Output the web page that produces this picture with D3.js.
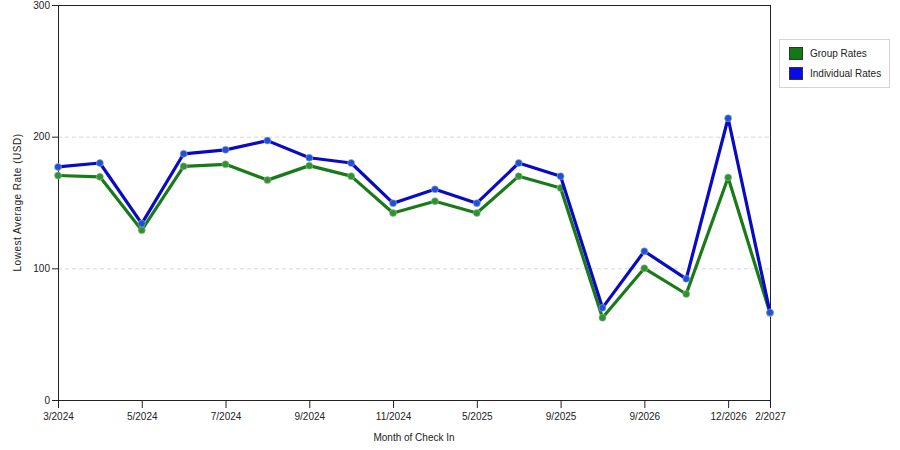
<!DOCTYPE html>
<html>
<head>
<meta charset="utf-8">
<script src="https://cdn.jsdelivr.net/npm/d3@7"></script>
<style>
  body { margin: 0; background: #fff; }
  text { font-family: "Liberation Sans", Arial, sans-serif; font-size: 10px; fill: #222; }
</style>
</head>
<body>
<script>
// months on the x axis (only some of them get a label)
var months = ["3/2024", "4/2024", "5/2024", "6/2024", "7/2024", "8/2024", "9/2024", "10/2024",
              "11/2024", "1/2025", "5/2025", "7/2025", "9/2025", "3/2026", "9/2026", "11/2026",
              "12/2026", "2/2027"];
var labelledMonths = ["3/2024", "5/2024", "7/2024", "9/2024", "11/2024", "5/2025", "9/2025",
                      "9/2026", "12/2026", "2/2027"];
var groupRates = [170.5, 169.5, 129, 177.5, 179, 167, 178, 170, 142, 151, 142, 170, 161, 62.5, 100, 80.5, 169, 66];
var individualRates = [177, 180, 134, 187, 190, 197, 184, 180, 149.5, 160, 149.5, 180, 170, 70, 113, 92, 214, 66.5];
var yTicks = [0, 100, 200, 300];

var width = 900,
    height = 450;

// plot box (window.top is taken, so own names)
var plotLeft = 58, plotRight = 770, plotTop = 5, plotBottom = 400;

var svg = d3.select("body").append("svg")
    .attr("width", width)
    .attr("height", height);

var x = d3.scalePoint().domain(months).range([plotLeft, plotRight]);
var y = d3.scaleLinear().domain([0, 300]).range([plotBottom, plotTop]);

// dashed grid
svg.selectAll("line.grid")
    .data([100, 200])
  .enter().append("line")
    .attr("class", "grid")
    .attr("x1", plotLeft).attr("x2", plotRight)
    .attr("y1", function(d) { return y(d) + 0.5; })
    .attr("y2", function(d) { return y(d) + 0.5; })
    .attr("stroke", "#d6d6d6")
    .attr("stroke-dasharray", "4,3");

// frame: top and right edges
svg.append("line").attr("x1", plotLeft).attr("x2", plotRight).attr("y1", plotTop + 0.5).attr("y2", plotTop + 0.5)
    .attr("stroke", "#222");
svg.append("line").attr("x1", plotRight + 0.5).attr("x2", plotRight + 0.5).attr("y1", plotTop).attr("y2", plotBottom)
    .attr("stroke", "#222");

// y axis
var yAxis = svg.append("g")
    .attr("transform", "translate(" + plotLeft + ",0)")
    .call(d3.axisLeft(y).tickValues(yTicks).tickSize(6).tickPadding(2).tickSizeOuter(0));

// x axis
var xAxis = svg.append("g")
    .attr("transform", "translate(0," + plotBottom + ")")
    .call(d3.axisBottom(x).tickValues(labelledMonths).tickSize(8).tickPadding(5).tickSizeOuter(0));

[yAxis, xAxis].forEach(function(a) {
  a.select(".domain").attr("stroke", "#222");
  a.selectAll(".tick line").attr("stroke", "#222");
  a.selectAll("text").style("font-family", "'Liberation Sans', Arial, sans-serif")
    .style("font-size", "10px").attr("fill", "#222");
});

// axis titles
svg.append("text")
    .attr("x", (plotLeft + plotRight) / 2)
    .attr("y", 441)
    .attr("text-anchor", "middle")
    .text("Month of Check In");

svg.append("text")
    .attr("transform", "translate(21," + ((plotTop + plotBottom) / 2) + ") rotate(-90)")
    .attr("text-anchor", "middle")
    .style("letter-spacing", "0.5px")
    .text("Lowest Average Rate (USD)");

var series = [
  { name: "Group Rates", values: groupRates, line: "#1a7a1a", dot: "#2f942f", swatch: "#127a12" },
  { name: "Individual Rates", values: individualRates, line: "#0a0ac4", dot: "#1f4fe0", swatch: "#0a0ae6" }
];

var line = d3.line()
    .x(function(d, i) { return x(months[i]); })
    .y(function(d) { return y(d); });

series.forEach(function(s) {
  svg.append("path")
      .datum(s.values)
      .attr("fill", "none")
      .attr("stroke", s.line)
      .attr("stroke-width", 3.2)
      .attr("stroke-linejoin", "round")
      .attr("d", line);

  svg.selectAll(null)
      .data(s.values)
    .enter().append("circle")
      .attr("cx", function(d, i) { return x(months[i]); })
      .attr("cy", function(d) { return y(d); })
      .attr("r", 3.5)
      .attr("fill", s.dot)
      .attr("stroke", "#9fb89f")
      .attr("stroke-opacity", 0.6)
      .attr("stroke-width", 1);
});

// legend
var legend = svg.append("g");
legend.append("rect")
    .attr("x", 779.5).attr("y", 39.5)
    .attr("width", 110).attr("height", 48)
    .attr("fill", "#fff")
    .attr("stroke", "#d4d4d4");

var item = legend.selectAll("g.item")
    .data(series)
  .enter().append("g")
    .attr("class", "item")
    .attr("transform", function(d, i) { return "translate(789," + (47 + i * 20) + ")"; });

item.append("rect")
    .attr("x", 0.5).attr("y", 0.5)
    .attr("width", 13).attr("height", 12)
    .attr("fill", function(d) { return d.swatch; })
    .attr("stroke", "#333");

item.append("text")
    .attr("x", 21)
    .attr("y", 10)
    .text(function(d) { return d.name; });
</script>
</body>
</html>
